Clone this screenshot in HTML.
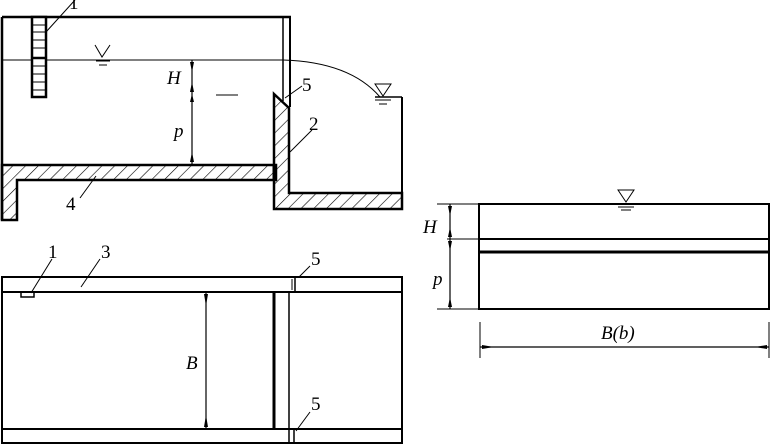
<!DOCTYPE html>
<html><head><meta charset="utf-8"><style>
html,body{margin:0;padding:0;background:#fff;width:770px;height:446px;overflow:hidden}
text{font-family:"Liberation Serif",serif;font-size:19px;fill:#000}
.i{font-style:italic}
</style></head><body>
<svg width="770" height="446" viewBox="0 0 770 446" xmlns="http://www.w3.org/2000/svg">
<defs>
<pattern id="h" patternUnits="userSpaceOnUse" width="9" height="9" patternTransform="rotate(45)">
<line x1="0" y1="0" x2="0" y2="9" stroke="#000" stroke-width="1.2"/>
</pattern>
</defs>
<g stroke="#000" fill="none">
<line x1="2" y1="17" x2="291" y2="17" stroke-width="2.5"/>
<line x1="2" y1="17" x2="2" y2="220" stroke-width="2.5"/>
<line x1="283" y1="17" x2="283" y2="101" stroke-width="1.5"/>
<line x1="290" y1="17" x2="290" y2="107" stroke-width="2"/>
<line x1="2" y1="60" x2="283" y2="60" stroke-width="1"/>
<path d="M283 60 Q350 62 380 97" stroke-width="1"/>
<rect x="32" y="17" width="14" height="80" stroke-width="2.5" fill="#fff"/>
<g stroke-width="1"><line x1="32" y1="25" x2="46" y2="25"/><line x1="32" y1="32" x2="46" y2="32"/><line x1="32" y1="40" x2="46" y2="40"/><line x1="32" y1="48" x2="46" y2="48"/><line x1="32" y1="66" x2="46" y2="66"/><line x1="32" y1="74" x2="46" y2="74"/><line x1="32" y1="82" x2="46" y2="82"/><line x1="32" y1="90" x2="46" y2="90"/></g>
<line x1="32" y1="58" x2="46" y2="58" stroke-width="2.5"/>
<line x1="46" y1="32" x2="75" y2="0" stroke-width="1"/>
<path d="M95 45 L102 57 L110 45" stroke-width="1"/>
<line x1="96" y1="61" x2="110" y2="61"/><line x1="99" y1="65" x2="107" y2="65"/>
<path d="M375 84 L383 96 L391 84 Z" stroke-width="1"/>
<line x1="375" y1="100" x2="391" y2="100"/><line x1="379" y1="104" x2="387" y2="104"/>
<path d="M2 165 L276 165 L276 180 L17 180 L17 220 L2 220 Z" fill="url(#h)" stroke-width="2.5"/>
<path d="M274 94 L289 108 L289 193 L402 193 L402 209 L274 209 Z" fill="url(#h)" stroke-width="2.5"/>
<line x1="402" y1="97" x2="402" y2="209" stroke-width="2"/>
<line x1="375" y1="97" x2="402" y2="97" stroke-width="1.5"/>
<line x1="274" y1="165" x2="274" y2="180" stroke-width="3"/>
<line x1="192" y1="60" x2="192" y2="164" stroke-width="1.2"/>
<path d="M190 62 L194 62 L192 72 Z M190 92 L194 92 L192 82 Z M190 102 L194 102 L192 94 Z M190 162 L194 162 L192 152 Z" fill="#000" stroke="none"/>
<line x1="216" y1="95" x2="238" y2="95" stroke-width="1"/>
<line x1="285" y1="98" x2="302" y2="86" stroke-width="1"/>
<line x1="290" y1="152" x2="312" y2="130" stroke-width="1"/>
<line x1="80" y1="198" x2="96" y2="176" stroke-width="1"/>
<rect x="2" y="277" width="400" height="166" stroke-width="2"/>
<line x1="2" y1="292" x2="402" y2="292" stroke-width="2"/>
<line x1="2" y1="429" x2="402" y2="429" stroke-width="2"/>
<line x1="274" y1="292" x2="274" y2="429" stroke-width="3"/>
<line x1="289" y1="292" x2="289" y2="443" stroke-width="1.5"/>
<line x1="295" y1="277" x2="295" y2="292" stroke-width="1.5"/>
<line x1="292" y1="279" x2="292" y2="290" stroke-width="1"/>
<line x1="294" y1="429" x2="294" y2="443" stroke-width="1.5"/>
<rect x="21" y="292" width="13" height="5" stroke-width="1.5"/>
<line x1="31" y1="293" x2="52" y2="259" stroke-width="1"/>
<line x1="81" y1="287" x2="100" y2="259" stroke-width="1"/>
<line x1="299" y1="277" x2="310" y2="266" stroke-width="1"/>
<line x1="296" y1="431" x2="310" y2="412" stroke-width="1"/>
<line x1="206" y1="292" x2="206" y2="429" stroke-width="1.2"/>
<path d="M204 294 L208 294 L206 306 Z M204 427 L208 427 L206 415 Z" fill="#000" stroke="none"/>
<rect x="479" y="204" width="290" height="105" stroke-width="2"/>
<line x1="479" y1="239" x2="769" y2="239" stroke-width="2"/>
<line x1="479" y1="252" x2="769" y2="252" stroke-width="3"/>
<path d="M618 190 L626 202 L634 190 Z" stroke-width="1"/>
<line x1="618" y1="207" x2="634" y2="207"/><line x1="621" y1="210" x2="631" y2="210"/>
<line x1="437" y1="204" x2="479" y2="204" stroke-width="1"/>
<line x1="447" y1="239" x2="479" y2="239" stroke-width="1"/>
<line x1="437" y1="309" x2="479" y2="309" stroke-width="1"/>
<line x1="450" y1="204" x2="450" y2="309" stroke-width="1.2"/>
<path d="M448 206 L452 206 L450 216 Z M448 237 L452 237 L450 227 Z M448 241 L452 241 L450 251 Z M448 307 L452 307 L450 297 Z" fill="#000" stroke="none"/>
<line x1="480" y1="322" x2="480" y2="358" stroke-width="1"/>
<line x1="769" y1="322" x2="769" y2="358" stroke-width="1"/>
<line x1="480" y1="347" x2="769" y2="347" stroke-width="1.2"/>
<path d="M482 345 L482 349 L494 347 Z M767 345 L767 349 L755 347 Z" fill="#000" stroke="none"/>
</g>
<text x="69" y="9">1</text>
<text x="167" y="84" class="i">H</text>
<text x="174" y="137" class="i">p</text>
<text x="302" y="91">5</text>
<text x="309" y="130">2</text>
<text x="66" y="210">4</text>
<text x="48" y="258">1</text>
<text x="101" y="258">3</text>
<text x="311" y="265">5</text>
<text x="311" y="410">5</text>
<text x="186" y="369" class="i">B</text>
<text x="423" y="233" class="i">H</text>
<text x="433" y="285" class="i">p</text>
<text x="601" y="339" class="i">B(b)</text>
</svg>
</body></html>
